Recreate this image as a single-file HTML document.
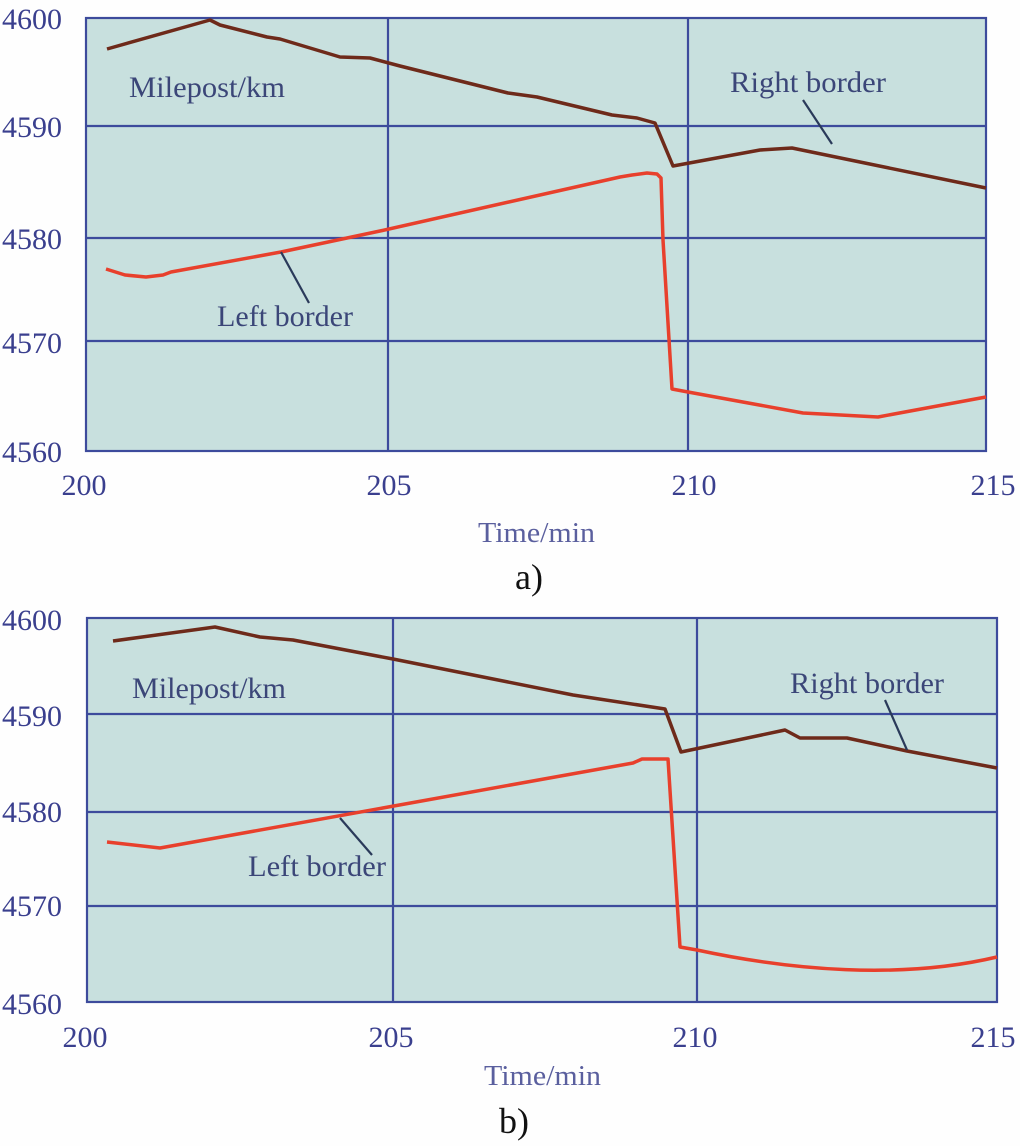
<!DOCTYPE html>
<html><head><meta charset="utf-8"><style>
html,body{margin:0;padding:0;background:#fefefe;}
svg{display:block;}
text{font-family:"Liberation Serif","Times New Roman",serif;}
</style></head><body>
<svg width="1020" height="1146" viewBox="0 0 1020 1146" xmlns="http://www.w3.org/2000/svg">
<rect width="1020" height="1146" fill="#fefefe"/>

<!-- Panel a -->
<rect x="86" y="18" width="900" height="433" fill="#c8e0de"/>
<g stroke="#3d4b9c" stroke-width="2.2" fill="none">
<line x1="86" y1="126" x2="986" y2="126"/>
<line x1="86" y1="238" x2="986" y2="238"/>
<line x1="86" y1="341" x2="986" y2="341"/>
<line x1="388" y1="18" x2="388" y2="451"/>
<line x1="688" y1="18" x2="688" y2="451"/>
<rect x="86" y="18" width="900" height="433"/>
</g>
<polyline fill="none" stroke="#6e2a1a" stroke-width="3.5" stroke-linejoin="round" points="107,49 210,20 220,25 267,37 280,39 340,57 370,58 400,66 508,93 537,97 612,115 637,118 655,123 673,166 760,150 792,148 986,188"/>
<polyline fill="none" stroke="#e8402c" stroke-width="3.5" stroke-linejoin="round" points="106,269 125,275 146,277 163,275 171,272 281,252 380,231 620,177 632,175 647,173 657,174 661,178 663,240 672,389 688,392 803,413 878,417 986,397"/>
<g stroke="#2a3a5a" stroke-width="2.2">
<line x1="803" y1="100" x2="832" y2="144"/>
<line x1="281" y1="252" x2="309" y2="303"/>
</g>
<g fill="#3b4678" font-size="30">
<text x="129" y="97" textLength="156" lengthAdjust="spacingAndGlyphs">Milepost/km</text>
<text x="730" y="92" textLength="156" lengthAdjust="spacingAndGlyphs">Right border</text>
<text x="217" y="326" textLength="136" lengthAdjust="spacingAndGlyphs">Left border</text>
</g>
<g fill="#3a3f8e" font-size="30" text-anchor="end">
<text x="62" y="29">4600</text>
<text x="62" y="137">4590</text>
<text x="62" y="249">4580</text>
<text x="62" y="353">4570</text>
<text x="62" y="462">4560</text>
</g>
<g fill="#3a3f8e" font-size="30" text-anchor="middle">
<text x="84" y="495">200</text>
<text x="389" y="495">205</text>
<text x="694" y="495">210</text>
<text x="993" y="495">215</text>
</g>
<text x="478" y="542" fill="#5a5f9e" font-size="29" textLength="117" lengthAdjust="spacingAndGlyphs">Time/min</text>
<text x="515" y="589" fill="#111" font-size="36">a)</text>

<!-- Panel b -->
<rect x="87" y="618" width="910" height="384" fill="#c8e0de"/>
<g stroke="#3d4b9c" stroke-width="2.2" fill="none">
<line x1="87" y1="714" x2="997" y2="714"/>
<line x1="87" y1="812" x2="997" y2="812"/>
<line x1="87" y1="906" x2="997" y2="906"/>
<line x1="393" y1="618" x2="393" y2="1002"/>
<line x1="697" y1="618" x2="697" y2="1002"/>
<rect x="87" y="618" width="910" height="384"/>
</g>
<polyline fill="none" stroke="#6e2a1a" stroke-width="3.5" stroke-linejoin="round" points="113,641 215,627 260,637 293,640 393,659 573,695 665,709 681,752 785,730 800,738 847,738 907,751 997,768"/>
<path fill="none" stroke="#e8402c" stroke-width="3.5" stroke-linejoin="round" d="M107,842 L160,848 L633,763 L642,759 L668,759 L680,947 L697,950 C790,970 900,980 997,957"/>
<g stroke="#2a3a5a" stroke-width="2.2">
<line x1="885" y1="700" x2="907" y2="750"/>
<line x1="340" y1="818" x2="372" y2="855"/>
</g>
<g fill="#3b4678" font-size="30">
<text x="132" y="698" textLength="154" lengthAdjust="spacingAndGlyphs">Milepost/km</text>
<text x="790" y="693" textLength="154" lengthAdjust="spacingAndGlyphs">Right border</text>
<text x="248" y="876" textLength="138" lengthAdjust="spacingAndGlyphs">Left border</text>
</g>
<g fill="#3a3f8e" font-size="30" text-anchor="end">
<text x="62" y="630">4600</text>
<text x="62" y="726">4590</text>
<text x="62" y="822">4580</text>
<text x="62" y="916">4570</text>
<text x="62" y="1014">4560</text>
</g>
<g fill="#3a3f8e" font-size="30" text-anchor="middle">
<text x="85" y="1047">200</text>
<text x="391" y="1047">205</text>
<text x="695" y="1047">210</text>
<text x="993" y="1047">215</text>
</g>
<text x="484" y="1085" fill="#5a5f9e" font-size="29" textLength="117" lengthAdjust="spacingAndGlyphs">Time/min</text>
<text x="499" y="1133" fill="#111" font-size="36">b)</text>
</svg>
</body></html>
